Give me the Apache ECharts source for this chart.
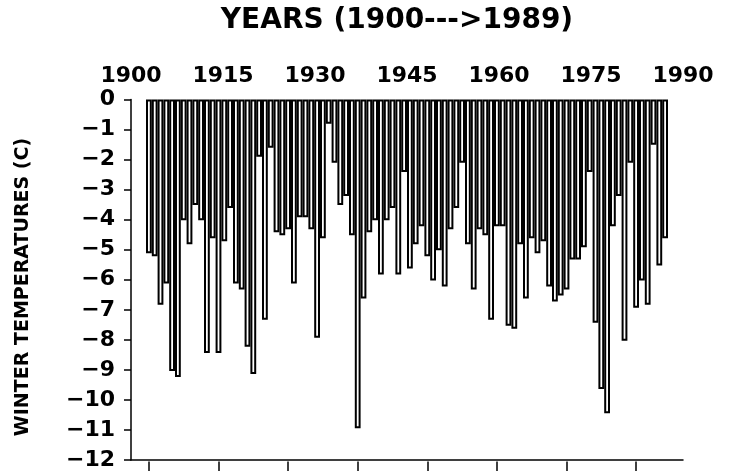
<!DOCTYPE html>
<html>
<head>
<meta charset="utf-8">
<script src="https://cdn.jsdelivr.net/npm/echarts@6/dist/echarts.min.js"></script>
<style>
html,body{margin:0;padding:0;background:#fff;}
#chart{width:733px;height:471px;}
</style>
</head>
<body>
<div id="chart"></div>
<script>
const years = [1900,1901,1902,1903,1904,1905,1906,1907,1908,1909,
  1910,1911,1912,1913,1914,1915,1916,1917,1918,1919,
  1920,1921,1922,1923,1924,1925,1926,1927,1928,1929,
  1930,1931,1932,1933,1934,1935,1936,1937,1938,1939,
  1940,1941,1942,1943,1944,1945,1946,1947,1948,1949,
  1950,1951,1952,1953,1954,1955,1956,1957,1958,1959,
  1960,1961,1962,1963,1964,1965,1966,1967,1968,1969,
  1970,1971,1972,1973,1974,1975,1976,1977,1978,1979,
  1980,1981,1982,1983,1984,1985,1986,1987,1988,1989];
const winterTemps = [-5.1,-5.2,-6.8,-6.1,-9.0,-9.2,-4.0,-4.8,-3.5,-4.0,
  -8.4,-4.6,-8.4,-4.7,-3.6,-6.1,-6.3,-8.2,-9.1,-1.9,
  -7.3,-1.6,-4.4,-4.5,-4.3,-6.1,-3.9,-3.9,-4.3,-7.9,
  -4.6,-0.8,-2.1,-3.5,-3.2,-4.5,-10.9,-6.6,-4.4,-4.0,
  -5.8,-4.0,-3.6,-5.8,-2.4,-5.6,-4.8,-4.2,-5.2,-6.0,
  -5.0,-6.2,-4.3,-3.6,-2.1,-4.8,-6.3,-4.3,-4.5,-7.3,
  -4.2,-4.2,-7.5,-7.6,-4.8,-6.6,-4.6,-5.1,-4.7,-6.2,
  -6.7,-6.5,-6.3,-5.3,-5.3,-4.9,-2.4,-7.4,-9.6,-10.4,
  -4.2,-3.2,-8.0,-2.1,-6.9,-6.0,-6.8,-1.5,-5.5,-4.6];
const yearTickLabels = ['1900','1915','1930','1945','1960','1975','1990'];
const tempTickMin = -12;
const tempTickMax = 0;
const titleText = 'YEARS (1900--->1989)';
const yTitleText = 'WINTER TEMPERATURES (C)';

const FONT = 'DejaVu Sans';
const chart = echarts.init(document.getElementById('chart'));
chart.setOption({
  animation: false,
  backgroundColor: '#ffffff',
  grid: [
    {left: 146, right: 65, top: 99.5, bottom: 9.5},
    {left: 131, right: 50, top: 99.5, bottom: 9.5}
  ],
  xAxis: [
    {type: 'category', gridIndex: 0, data: years, position: 'bottom',
     axisLine: {show: false, onZero: false},
     axisTick: {show: true, alignWithLabel: true, interval: 11, length: 10, lineStyle: {color: '#000', width: 1.5}},
     axisLabel: {show: true, interval: 11, formatter: () => ''}},
    {type: 'category', gridIndex: 1, data: yearTickLabels, position: 'top', boundaryGap: false,
     axisLine: {show: false, onZero: false}, axisTick: {show: false},
     axisLabel: {color: '#000', fontFamily: FONT, fontWeight: 'bold', fontSize: 22, margin: 12}},
    {type: 'category', gridIndex: 1, data: yearTickLabels, position: 'bottom', boundaryGap: false,
     axisLine: {show: true, onZero: false, lineStyle: {color: '#000', width: 1.5}}, axisTick: {show: false},
     axisLabel: {show: false}}
  ],
  yAxis: [
    {type: 'value', gridIndex: 0, min: tempTickMin, max: tempTickMax, show: false},
    {type: 'value', gridIndex: 1, min: tempTickMin, max: tempTickMax, interval: 1,
     axisLine: {show: true, lineStyle: {color: '#000', width: 1.5}},
     axisTick: {show: true, length: 7, lineStyle: {color: '#000', width: 1.5}},
     splitLine: {show: false},
     axisLabel: {color: '#000', fontFamily: FONT, fontWeight: 'bold', fontSize: 22, margin: 16,
       formatter: v => String(v).replace('-', '\u2212')}}
  ],
  graphic: [
    {type: 'text', x: 397, y: 21, style: {text: titleText, fill: '#000', font: 'bold 28px "DejaVu Sans"', textAlign: 'center', textVerticalAlign: 'middle'}},
    {type: 'text', x: 23, y: 287, rotation: Math.PI / 2, style: {text: yTitleText, fill: '#000', font: 'bold 19px "DejaVu Sans"', textAlign: 'center', textVerticalAlign: 'middle'}}
  ],
  series: [{
    type: 'bar', xAxisIndex: 0, yAxisIndex: 0, data: winterTemps,
    barCategoryGap: '0%',
    itemStyle: {color: '#fff', borderColor: '#000', borderWidth: 2},
    silent: true
  }]
});
</script>
</body>
</html>
